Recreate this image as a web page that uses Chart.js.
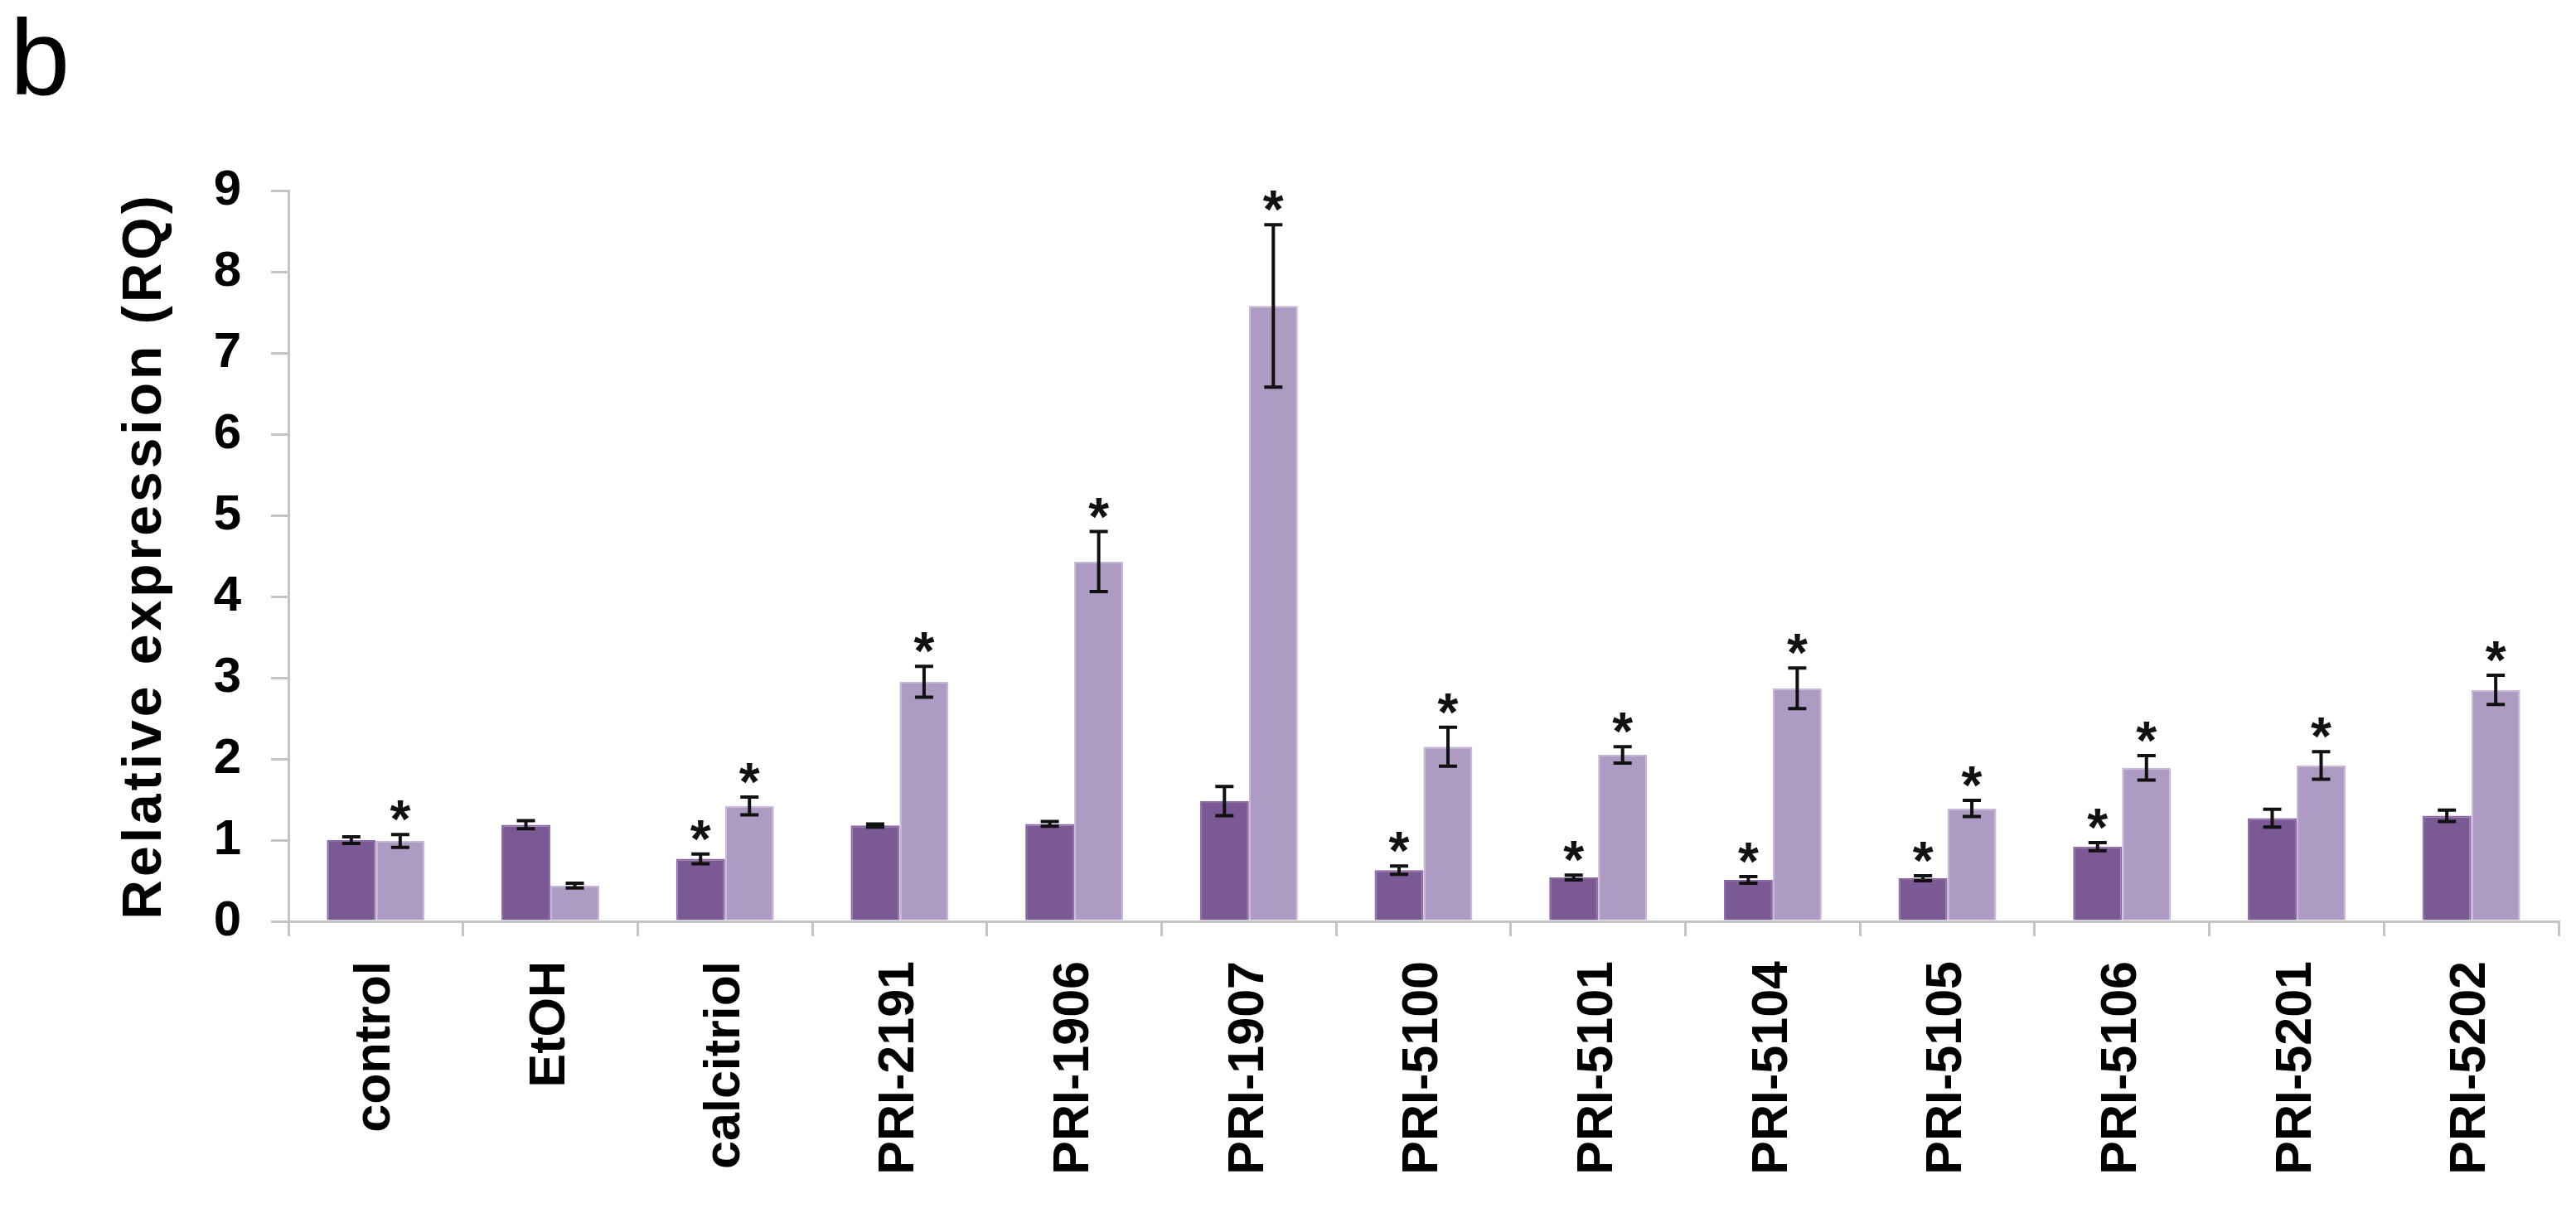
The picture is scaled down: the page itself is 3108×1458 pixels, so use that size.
<!DOCTYPE html>
<html><head><meta charset="utf-8">
<script src="https://cdn.jsdelivr.net/npm/chart.js@4/dist/chart.umd.min.js"></script>
<style>html,body{margin:0;padding:0;background:#fff;}</style>
</head><body>
<canvas id="c" width="3108" height="1458"></canvas>
<script>
const categories = ['control','EtOH','calcitriol','PRI-2191','PRI-1906','PRI-1907','PRI-5100','PRI-5101','PRI-5104','PRI-5105','PRI-5106','PRI-5201','PRI-5202'];
const darkValues = [1.00, 1.19, 0.77, 1.18, 1.20, 1.48, 0.63, 0.54, 0.51, 0.53, 0.92, 1.27, 1.30];
const darkErrors = [0.04, 0.05, 0.06, 0.02, 0.03, 0.18, 0.05, 0.03, 0.04, 0.03, 0.05, 0.11, 0.07];
const lightValues = [0.99, 0.44, 1.42, 2.95, 4.43, 7.58, 2.15, 2.05, 2.87, 1.39, 1.89, 1.92, 2.85];
const lightErrors = [0.08, 0.03, 0.11, 0.19, 0.37, 1.00, 0.24, 0.10, 0.25, 0.10, 0.15, 0.17, 0.18];
const darkSignificant = [false,false,true,false,false,false,true,true,true,true,true,false,false];
const lightSignificant = [true,false,true,true,true,true,true,true,true,true,true,true,true];
const yTicks = [0,1,2,3,4,5,6,7,8,9];
const panelLetter = 'b';
const yTitle = 'Relative expression (RQ)';

const FAMILY = "'Liberation Sans', Arial, Helvetica, sans-serif";
const AXIS_GRAY = '#c4c4c4';

const titleSpacingPlugin = {
  id: 'titleSpacing',
  afterLayout(chart) {
    const s = chart.scales.y;
    if (s && !s._spacedTitle) {
      const orig = s.drawTitle.bind(s);
      s.drawTitle = function () {
        const c = this.ctx;
        c.save();
        c.letterSpacing = '4px';
        orig();
        c.restore();
      };
      s._spacedTitle = true;
    }
  }
};

const errorBarPlugin = {
  id: 'errorBars',
  afterDatasetsDraw(chart) {
    const ctx = chart.ctx;
    const yScale = chart.scales.y;
    const errs = [darkErrors, lightErrors];
    const sigs = [darkSignificant, lightSignificant];
    chart.data.datasets.forEach((ds, di) => {
      const meta = chart.getDatasetMeta(di);
      meta.data.forEach((bar, i) => {
        const v = ds.data[i];
        const e = errs[di][i];
        const x = bar.x;
        const yTop = yScale.getPixelForValue(v + e);
        const yBot = yScale.getPixelForValue(v - e);
        ctx.save();
        ctx.strokeStyle = '#111';
        ctx.lineWidth = 4;
        ctx.beginPath();
        ctx.moveTo(x, yTop); ctx.lineTo(x, yBot);
        ctx.moveTo(x - 11, yTop); ctx.lineTo(x + 11, yTop);
        ctx.moveTo(x - 11, yBot); ctx.lineTo(x + 11, yBot);
        ctx.stroke();
        if (sigs[di][i]) {
          ctx.fillStyle = '#111';
          ctx.font = 'bold 64px ' + FAMILY;
          ctx.textAlign = 'center';
          ctx.textBaseline = 'alphabetic';
          ctx.fillText('*', x, yTop - 30 + 34);
        }
        ctx.restore();
      });
    });
  }
};

new Chart(document.getElementById('c'), {
  type: 'bar',
  data: {
    labels: categories,
    datasets: [
      { label: 'Series 1', data: darkValues, backgroundColor: '#7b5994', borderColor: '#8c6ba5', borderWidth: 2,
        categoryPercentage: 0.56, barPercentage: 1.0 },
      { label: 'Series 2', data: lightValues, backgroundColor: '#ae9bc4', borderColor: '#c6b7d6', borderWidth: 2,
        categoryPercentage: 0.56, barPercentage: 1.0 }
    ]
  },
  options: {
    responsive: false,
    animation: false,
    devicePixelRatio: 1,
    layout: { padding: { left: 12, right: 21, top: 0, bottom: 0 } },
    plugins: {
      legend: { display: false },
      tooltip: { enabled: false },
      title: { display: true, text: panelLetter, align: 'start', color: '#000',
        font: { family: FAMILY, size: 130, weight: 'normal', lineHeight: 1.2 },
        padding: { top: 0, bottom: 74 } }
    },
    scales: {
      x: {
        grid: { display: true, drawOnChartArea: false, drawTicks: true, tickLength: 18, color: AXIS_GRAY, lineWidth: 3, offset: true },
        border: { display: true, color: AXIS_GRAY, width: 3 },
        ticks: { autoSkip: false, maxRotation: 90, minRotation: 90, padding: 30, color: '#000',
          font: { family: FAMILY, size: 61, weight: 'bold' } },
        afterFit(s) { s.height = 346; }
      },
      y: {
        min: 0, max: 9,
        afterBuildTicks(s) { s.ticks = yTicks.map(v => ({ value: v })); },
        grid: { display: true, drawOnChartArea: false, drawTicks: true, tickLength: 21, color: AXIS_GRAY, lineWidth: 3 },
        border: { display: true, color: AXIS_GRAY, width: 3 },
        ticks: { padding: 36, color: '#000', font: { family: FAMILY, size: 60, weight: 'bold' } },
        title: { display: true, text: yTitle, color: '#000',
          font: { family: FAMILY, size: 66, weight: 'bold', lineHeight: 1.2 },
          padding: { top: 124, bottom: 0 } },
        afterFit(s) { s.width = 336; }
      }
    }
  },
  plugins: [titleSpacingPlugin, errorBarPlugin]
});
</script>
</body></html>
